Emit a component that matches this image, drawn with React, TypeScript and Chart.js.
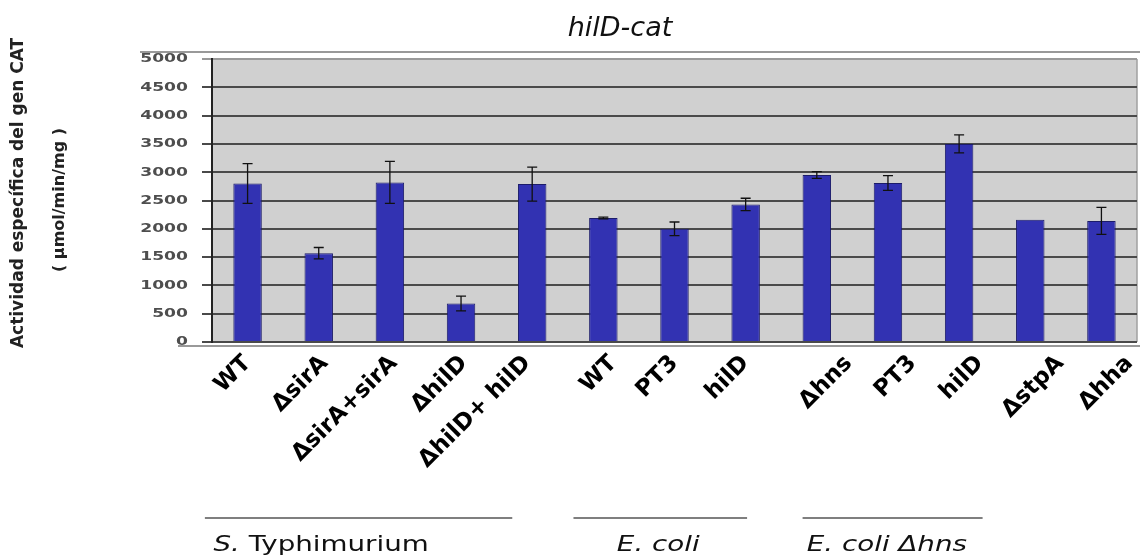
import React, { useEffect, useRef } from "react";
import { Chart, registerables } from "chart.js";

Chart.register(...registerables);

const categories = [
  "WT",
  "ΔsirA",
  "ΔsirA+sirA",
  "ΔhilD",
  "ΔhilD+ hilD",
  "WT",
  "PT3",
  "hilD",
  "Δhns",
  "PT3",
  "hilD",
  "ΔstpA",
  "Δhha",
];
const activity = [2800, 1570, 2820, 680, 2790, 2190, 2000, 2430, 2950, 2810, 3500, 2160, 2140];
const errorValues = [350, 100, 370, 130, 300, 15, 120, 110, 60, 130, 160, 0, 240];

// horizontal nudge of each category label (px), as in the original figure
const labelNudge = [0, 6, 4, 3, -5, 10, 0, 0, 32, 25, 21, 30, 28];

const groupNames = ["S. Typhimurium", "E. coli", "E. coli Δhns"];
const groupItalicPrefix = ["S.", "E. coli", "E. coli Δhns"];
const groupStart = [0, 5, 8];
const groupEnd = [4, 7, 10];

const chartTitle = "hilD-cat";
const yTitle1 = "Actividad específica del gen CAT";
const yTitle2 = "( µmol/min/mg )";

const STRETCH = 1.32;
const XFONT = 23;

const decorPlugin = {
  id: "decor",
  beforeDraw(chart: any) {
    const { ctx, chartArea } = chart;
    ctx.save();
    ctx.fillStyle = "#d0d0d0";
    ctx.fillRect(chartArea.left, chartArea.top, chartArea.right - chartArea.left, chartArea.bottom - chartArea.top);
    ctx.strokeStyle = "#999";
    ctx.lineWidth = 2;
    ctx.beginPath();
    ctx.moveTo(140, chartArea.top - 7);
    ctx.lineTo(1140, chartArea.top - 7);
    ctx.moveTo(178, chartArea.bottom + 4);
    ctx.lineTo(1140, chartArea.bottom + 4);
    ctx.stroke();
    ctx.strokeStyle = "#a0a0a0";
    ctx.lineWidth = 1.5;
    ctx.beginPath();
    ctx.moveTo(chartArea.right, chartArea.top);
    ctx.lineTo(chartArea.right, chartArea.bottom);
    ctx.stroke();
    ctx.restore();
  },
  afterDatasetsDraw(chart: any) {
    const { ctx } = chart;
    const xs = chart.scales.x;
    const ys = chart.scales.y;
    ctx.save();
    ctx.strokeStyle = "#111";
    ctx.lineWidth = 1.3;
    activity.forEach((v, i) => {
      const e = errorValues[i];
      if (!e) return;
      const x = xs.getPixelForValue(i);
      const yTop = ys.getPixelForValue(v + e);
      const yBot = ys.getPixelForValue(v - e);
      ctx.beginPath();
      ctx.moveTo(x, yTop);
      ctx.lineTo(x, yBot);
      ctx.moveTo(x - 5, yTop);
      ctx.lineTo(x + 5, yTop);
      ctx.moveTo(x - 5, yBot);
      ctx.lineTo(x + 5, yBot);
      ctx.stroke();
    });
    ctx.restore();
  },
  afterDraw(chart: any) {
    const { ctx, chartArea } = chart;
    const xs = chart.scales.x;
    const ys = chart.scales.y;
    ctx.save();
    // y tick labels (horizontally stretched like the reference)
    ctx.fillStyle = "#4e4e4e";
    ctx.font = "bold 13px 'DejaVu Sans'";
    ctx.textAlign = "right";
    ctx.textBaseline = "middle";
    ys.ticks.forEach((t: any) => {
      const y = ys.getPixelForValue(t.value);
      ctx.save();
      ctx.translate(188, y);
      ctx.scale(STRETCH, 1);
      ctx.fillText(String(t.value), 0, 0);
      ctx.restore();
    });
    // x category labels, rotated 45°
    const lh = XFONT * 1.2;
    ctx.fillStyle = "#000";
    ctx.font = `bold ${XFONT}px 'DejaVu Sans'`;
    ctx.textAlign = "right";
    ctx.textBaseline = "middle";
    categories.forEach((lab, i) => {
      const px = xs.getPixelForValue(i) + labelNudge[i] - (lh / 2) * Math.SQRT1_2;
      ctx.save();
      ctx.translate(px, chartArea.bottom + 8);
      ctx.rotate(-Math.PI / 4);
      ctx.fillText(lab, 0, lh / 2);
      ctx.restore();
    });
    // title
    ctx.fillStyle = "#111";
    ctx.font = "italic 27px 'DejaVu Sans'";
    ctx.textAlign = "center";
    ctx.textBaseline = "middle";
    ctx.fillText(chartTitle, 620, 29);
    // y title
    ctx.save();
    ctx.translate(19, 193);
    ctx.rotate(-Math.PI / 2);
    ctx.font = "bold 17px 'DejaVu Sans'";
    ctx.fillStyle = "#222";
    ctx.fillText(yTitle1, 0, 0);
    ctx.font = "bold 16px 'DejaVu Sans'";
    ctx.fillText(yTitle2, -7, 41);
    ctx.restore();
    // groups
    const cw = (chartArea.right - chartArea.left) / categories.length;
    const lineOff = [
      [-0.6, -0.28],
      [-0.42, 0.02],
      [-0.2, 0.33],
    ];
    const textOff = [-0.48, 0.19, -0.14];
    ctx.strokeStyle = "#555";
    ctx.lineWidth = 1.5;
    ctx.textAlign = "left";
    ctx.textBaseline = "middle";
    groupNames.forEach((name, g) => {
      const x1 = xs.getPixelForValue(groupStart[g]) + lineOff[g][0] * cw;
      const x2 = xs.getPixelForValue(groupEnd[g]) + lineOff[g][1] * cw;
      ctx.beginPath();
      ctx.moveTo(x1, 518);
      ctx.lineTo(x2, 518);
      ctx.stroke();
      const tx = xs.getPixelForValue(groupStart[g]) + textOff[g] * cw;
      const pre = groupItalicPrefix[g];
      ctx.save();
      ctx.translate(tx, 546);
      ctx.scale(STRETCH, 1);
      ctx.fillStyle = "#111";
      ctx.font = "italic 21px 'DejaVu Sans'";
      ctx.fillText(pre, 0, 0);
      const w = ctx.measureText(pre).width;
      const rest = name.slice(pre.length);
      if (rest) {
        ctx.font = "21px 'DejaVu Sans'";
        ctx.fillText(rest, w, 0);
      }
      ctx.restore();
    });
    ctx.restore();
  },
};

export default function App() {
  const ref = useRef<HTMLCanvasElement | null>(null);
  useEffect(() => {
    if (!ref.current) return;
    const chart = new Chart(ref.current, {
      type: "bar",
      data: {
        labels: categories,
        datasets: [
          {
            data: activity,
            backgroundColor: "#3232b2",
            borderColor: "#1c1c6a",
            borderWidth: 1,
            categoryPercentage: 1,
            barPercentage: 0.4,
          },
        ],
      },
      options: {
        animation: false,
        responsive: false,
        devicePixelRatio: 1,
        layout: { padding: { top: 59, right: 3, left: 0, bottom: 0 } },
        plugins: {
          legend: { display: false },
          tooltip: { enabled: false },
          title: { display: false },
        },
        scales: {
          x: {
            grid: { display: false },
            border: { display: false },
            ticks: {
              autoSkip: false,
              minRotation: 45,
              maxRotation: 45,
              color: "rgba(0,0,0,0)",
              padding: 8,
              font: { family: "'DejaVu Sans'", weight: "bold", size: XFONT },
            },
            afterFit(scale: any) {
              scale.height = 215;
            },
          },
          y: {
            min: 0,
            max: 5000,
            ticks: {
              stepSize: 500,
              color: "rgba(0,0,0,0)",
              padding: 14,
              font: { family: "'DejaVu Sans'", weight: "bold", size: 13 },
            },
            grid: {
              color: (c: any) => (c.tick && c.tick.value === 5000 ? "#999" : "#4a4a4a"),
              lineWidth: 2,
              tickLength: 10,
            },
            border: { display: true, color: "#222", width: 2 },
            afterFit(scale: any) {
              scale.width = 212;
            },
          },
        },
      },
      plugins: [decorPlugin],
    });
    return () => chart.destroy();
  }, []);
  return (
    <canvas
      ref={ref}
      width={1140}
      height={557}
      style={{ position: "absolute", left: 0, top: 0, width: 1140, height: 557 }}
    />
  );
}
